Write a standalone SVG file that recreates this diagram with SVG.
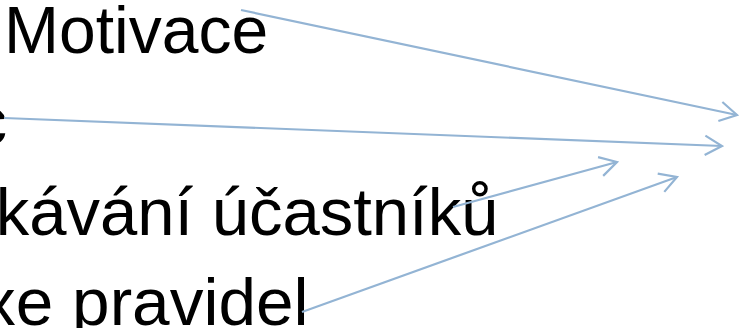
<svg xmlns="http://www.w3.org/2000/svg" width="740" height="328" viewBox="0 0 740 328">
  <style>
    .t { font-family: "Liberation Sans", Arial, sans-serif; font-size: 66px; fill: #000; }
    .c { fill: none; stroke: #93b4d4; stroke-width: 2.2; }
  </style>
  <defs>
    <marker id="ah" viewBox="-20 -12 22 24" markerWidth="22" markerHeight="24" refX="0" refY="0" orient="auto" markerUnits="userSpaceOnUse">
      <path d="M-17,-9.7 L0,0 L-17,9.7" fill="none" stroke="#93b4d4" stroke-width="2.2" stroke-linejoin="miter"/>
    </marker>
  </defs>
  <rect width="740" height="328" fill="#fff"/>
  <g id="node-motivace">
    <text class="t" x="4" y="53">Motivace</text>
  </g>
  <g id="node-line2">
    <text class="t" x="7" y="144" text-anchor="end">c</text>
  </g>
  <g id="node-ucastniku">
    <text class="t" x="498.5" y="235" text-anchor="end" style="font-size:67px">kávání účastníků</text>
  </g>
  <g id="node-pravidel">
    <text class="t" x="308.5" y="325" text-anchor="end" style="font-size:67.5px">xe pravidel</text>
  </g>
  <g id="connectors">
    <line class="c" x1="241" y1="10" x2="737" y2="115" marker-end="url(#ah)"/>
    <line class="c" x1="4" y1="118" x2="722" y2="146" marker-end="url(#ah)"/>
    <line class="c" x1="453" y1="207" x2="617" y2="162" marker-end="url(#ah)"/>
    <line class="c" x1="302" y1="312" x2="677" y2="177" marker-end="url(#ah)"/>
  </g>
</svg>
